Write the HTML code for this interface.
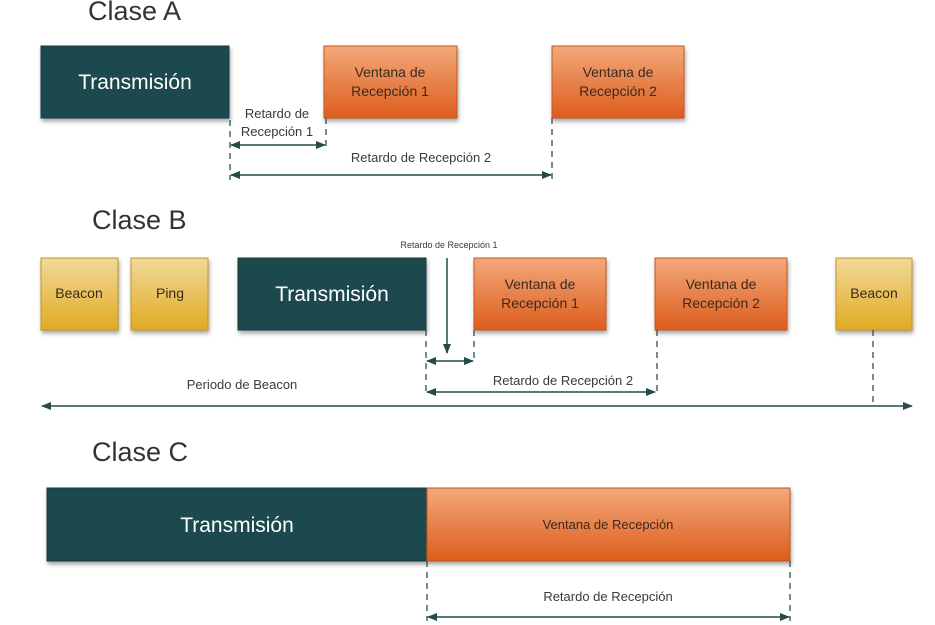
<!DOCTYPE html>
<html><head><meta charset="utf-8"><style>
html,body{margin:0;padding:0;background:#fff;}
svg{display:block;font-family:"Liberation Sans",sans-serif;}
</style></head><body>
<svg width="935" height="625" viewBox="0 0 935 625" xmlns="http://www.w3.org/2000/svg">
<defs>
<linearGradient id="or" x1="0" y1="0" x2="0" y2="1"><stop offset="0" stop-color="#f2a97b"/><stop offset="1" stop-color="#dd5c1c"/></linearGradient>
<linearGradient id="ye" x1="0" y1="0" x2="0" y2="1"><stop offset="0" stop-color="#f2d99a"/><stop offset="1" stop-color="#e0ab22"/></linearGradient>
<filter id="sh" x="-10%" y="-10%" width="125%" height="135%"><feDropShadow dx="1" dy="3" stdDeviation="2" flood-color="#000" flood-opacity="0.35"/></filter>
<marker id="ar" viewBox="0 0 10 10" refX="9" refY="5" markerWidth="11" markerHeight="10" markerUnits="userSpaceOnUse" orient="auto-start-reverse"><path d="M0,1 L10,5 L0,9 z" fill="#234b4b"/></marker>
</defs>
<g fill="#333" font-size="27">
<text x="88" y="20">Clase A</text>
<text x="92" y="229">Clase B</text>
<text x="92" y="461">Clase C</text>
</g>
<g filter="url(#sh)">
<rect x="41" y="46" width="188" height="72" fill="#1f4a4d" stroke="#163a3c"/>
<rect x="324" y="46" width="133" height="72" fill="url(#or)" stroke="#c9561e"/>
<rect x="552" y="46" width="132" height="72" fill="url(#or)" stroke="#c9561e"/>
<rect x="41" y="258" width="77" height="72" fill="url(#ye)" stroke="#c49520"/>
<rect x="131" y="258" width="77" height="72" fill="url(#ye)" stroke="#c49520"/>
<rect x="238" y="258" width="188" height="72" fill="#1f4a4d" stroke="#163a3c"/>
<rect x="474" y="258" width="132" height="72" fill="url(#or)" stroke="#c9561e"/>
<rect x="655" y="258" width="132" height="72" fill="url(#or)" stroke="#c9561e"/>
<rect x="836" y="258" width="76" height="72" fill="url(#ye)" stroke="#c49520"/>
<rect x="47" y="488" width="380" height="73" fill="#1f4a4d" stroke="#163a3c"/>
<rect x="427" y="488" width="363" height="73" fill="url(#or)" stroke="#c9561e"/>
</g>
<g fill="#fff" font-size="21" text-anchor="middle">
<text x="135" y="89">Transmisión</text>
<text x="332" y="301">Transmisión</text>
<text x="237" y="532">Transmisión</text>
</g>
<g fill="#3a2a20" font-size="14" text-anchor="middle">
<text x="390" y="77">Ventana de</text><text x="390" y="96">Recepción 1</text>
<text x="618" y="77">Ventana de</text><text x="618" y="96">Recepción 2</text>
<text x="540" y="289">Ventana de</text><text x="540" y="308">Recepción 1</text>
<text x="721" y="289">Ventana de</text><text x="721" y="308">Recepción 2</text>
<text x="608" y="529" font-size="13">Ventana de Recepción</text>
<text x="79" y="298">Beacon</text>
<text x="170" y="298">Ping</text>
<text x="874" y="298">Beacon</text>
</g>
<g stroke="#2e4e50" stroke-width="1.3" stroke-dasharray="6,5" fill="none">
<line x1="230" y1="120" x2="230" y2="180"/>
<line x1="326" y1="118" x2="326" y2="148"/>
<line x1="552" y1="118" x2="552" y2="180"/>
<line x1="426" y1="330" x2="426" y2="395"/>
<line x1="474" y1="330" x2="474" y2="363"/>
<line x1="657" y1="330" x2="657" y2="395"/>
<line x1="873" y1="330" x2="873" y2="406"/>
<line x1="427" y1="561" x2="427" y2="621"/>
<line x1="790" y1="561" x2="790" y2="621"/>
</g>
<g stroke="#234b4b" stroke-width="1.5" fill="none">
<line x1="231" y1="145" x2="325" y2="145" marker-start="url(#ar)" marker-end="url(#ar)"/>
<line x1="231" y1="175" x2="551" y2="175" marker-start="url(#ar)" marker-end="url(#ar)"/>
<line x1="447" y1="258" x2="447" y2="353" marker-end="url(#ar)"/>
<line x1="427" y1="361" x2="473" y2="361" marker-start="url(#ar)" marker-end="url(#ar)"/>
<line x1="427" y1="392" x2="655" y2="392" marker-start="url(#ar)" marker-end="url(#ar)"/>
<line x1="42" y1="406" x2="912" y2="406" marker-start="url(#ar)" marker-end="url(#ar)"/>
<line x1="428" y1="617" x2="789" y2="617" marker-start="url(#ar)" marker-end="url(#ar)"/>
</g>
<g fill="#3a3a3a" font-size="13" text-anchor="middle">
<text x="277" y="118">Retardo de</text><text x="277" y="136">Recepción 1</text>
<text x="421" y="162">Retardo de Recepción 2</text>
<text x="563" y="385">Retardo de Recepción 2</text>
<text x="242" y="389">Periodo de Beacon</text>
<text x="608" y="601">Retardo de Recepción</text>
<text x="449" y="248" font-size="9">Retardo de Recepción 1</text>
</g>
</svg>
</body></html>
